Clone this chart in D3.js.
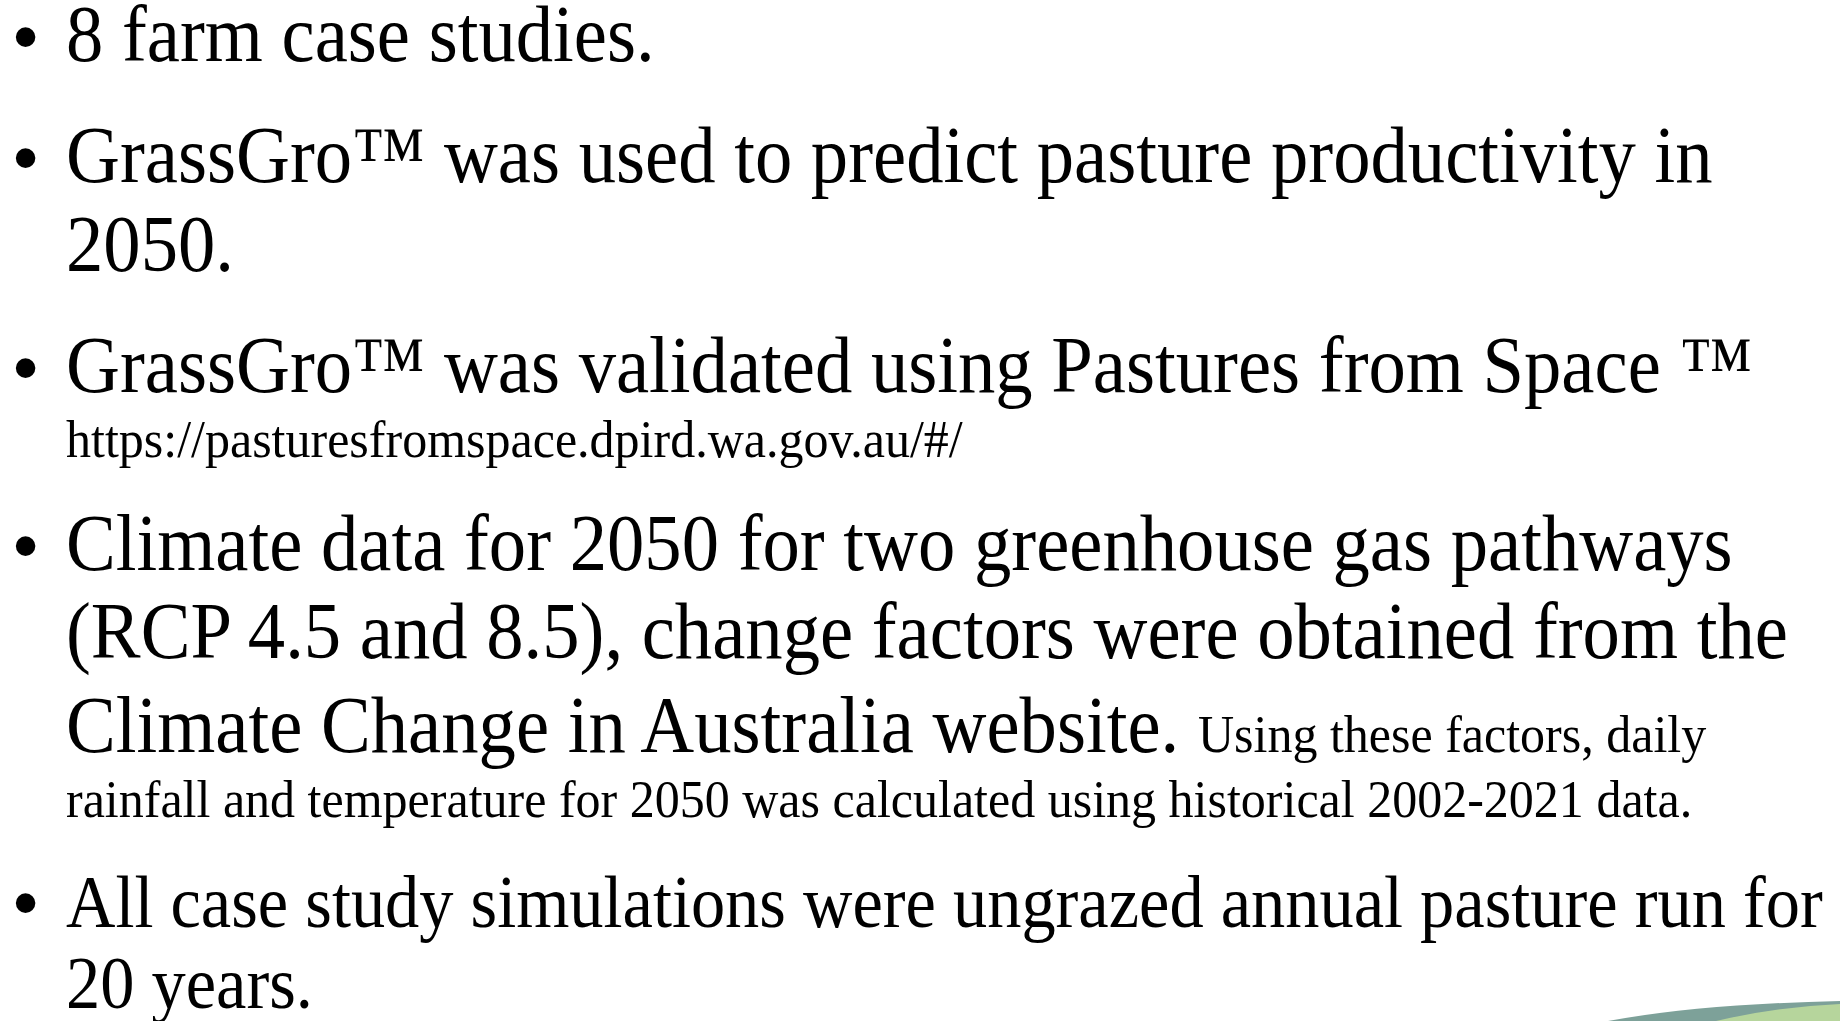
<!DOCTYPE html>
<html>
<head>
<meta charset="utf-8">
<script src="https://cdn.jsdelivr.net/npm/d3@7"></script>
<style>
  html, body { margin: 0; padding: 0; background: #ffffff; overflow: hidden; }
  svg { display: block; }
  .serif { font-family: "Liberation Serif", "Times New Roman", Times, serif; }
  .sans { font-family: "Liberation Sans", Arial, Helvetica, sans-serif; }
</style>
</head>
<body>
<svg id="slide" width="1840" height="1021"></svg>
<script>
// ---- Content (text of the slide) ----
const lineTexts = [
  [["8 farm case studies.", "L"]],
  [["GrassGro\u2122 was used to predict pasture productivity in", "L"]],
  [["2050.", "L"]],
  [["GrassGro\u2122 was validated using Pastures from Space \u2122", "L"]],
  [["https://pasturesfromspace.dpird.wa.gov.au/#/", "S"]],
  [["Climate data for 2050 for two greenhouse gas pathways", "L"]],
  [["(RCP 4.5 and 8.5), change factors were obtained from the", "L"]],
  [["Climate Change in Australia website. ", "L"], ["Using these factors, daily", "S"]],
  [["rainfall and temperature for 2050 was calculated using historical 2002-2021 data.", "S"]],
  [["All case study simulations were ungrazed annual pasture run for", "M"]],
  [["20 years.", "M"]]
];
const bulletFlags = [true, true, false, true, false, true, false, false, false, true, false];

// ---- Layout ----
const baselines = [61, 182, 271, 392, 457, 570, 658, 752, 817, 927, 1008];
const fontSizes = { L: 80, M: 73.3, S: 53.6 };
const textX = 66;
const bulletX = 13;
const refLineIndex = 1;      // line used to calibrate horizontal compression
const refLineWidth = 1647;   // its rendered width in the reference

const svg = d3.select("#slide");
svg.append("rect").attr("width", 1840).attr("height", 1021).attr("fill", "#ffffff");

const probe = svg.append("text")
  .attr("class", "serif")
  .style("font-size", fontSizes.L + "px")
  .text(lineTexts[refLineIndex][0][0]);
let sx = refLineWidth / probe.node().getComputedTextLength();
if (!isFinite(sx) || sx <= 0 || sx > 1.2) sx = 0.933;
probe.remove();

const y = d3.scaleOrdinal().domain(d3.range(lineTexts.length)).range(baselines);

const g = svg.append("g");
const lines = g.selectAll("text.line")
  .data(lineTexts)
  .join("text")
  .attr("class", "line serif")
  .attr("fill", "#000000")
  .attr("transform", (d, i) => `translate(${textX},${y(i)}) scale(${sx},1)`)
  .style("white-space", "pre");

lines.selectAll("tspan")
  .data(d => d)
  .join("tspan")
  .style("font-size", d => fontSizes[d[1]] + "px")
  .text(d => d[0]);

g.selectAll("text.bullet")
  .data(bulletFlags.map((b, i) => ({ b, i })).filter(d => d.b))
  .join("text")
  .attr("class", "bullet sans")
  .attr("x", bulletX)
  .attr("y", d => y(d.i))
  .style("font-size", "72px")
  .attr("fill", "#000000")
  .text("\u2022");

const deco = svg.append("g");
deco.append("path")
  .attr("d", "M1608,1021 Q1700,1004 1840,1001 L1840,1021 Z")
  .attr("fill", "#7da199");
deco.append("path")
  .attr("d", "M1716,1021 Q1775,1007 1840,1004 L1840,1021 Z")
  .attr("fill", "#b6d59c");
</script>
</body>
</html>
